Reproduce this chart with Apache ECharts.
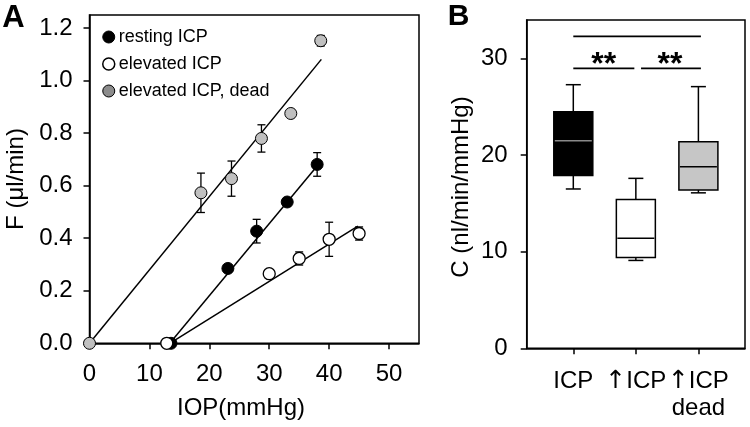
<!DOCTYPE html>
<html>
<head>
<meta charset="utf-8">
<script src="https://cdn.jsdelivr.net/npm/echarts@6/dist/echarts.min.js"></script>
<style>
html,body{margin:0;padding:0;background:#fff;}
#c{width:750px;height:427px;}
</style>
</head>
<body>
<div id="c"></div>
<script>
// ---------- Panel A data ----------
const restingPts = [[13.6, 0], [23.1, 0.285], [27.9, 0.427], [33.0, 0.538], [38.0, 0.681]];
const restingErr = [0, 0, 0.045, 0, 0.045];
const elevatedPts = [[12.9, 0], [30.0, 0.265], [35.0, 0.323], [40.0, 0.396], [45.0, 0.418]];
const elevatedErr = [0, 0, 0.025, 0.065, 0.025];
const deadPts = [[0, 0], [18.6, 0.573], [23.7, 0.627], [28.7, 0.78], [33.6, 0.875], [38.6, 1.152]];
const deadErr = [0, 0.075, 0.067, 0.052, 0, 0.02];
const restingFit = [[13.4, 0], [38.0, 0.675]];
const elevatedFit = [[13.4, 0], [44.8, 0.446]];
const deadFit = [[0, 0], [38.7, 1.081]];
const aXTicks = [0, 10, 20, 30, 40, 50];
const aYTicks = [0, 0.2, 0.4, 0.6, 0.8, 1.0, 1.2];
const seriesNames = ['resting ICP', 'elevated ICP', 'elevated ICP, dead'];

// ---------- Panel B data ----------
const boxCategories = ['ICP', '↑ICP', '↑ICP\ndead'];
const boxMin = [16.5, 9.1, 16.1];
const boxQ1 = [17.9, 9.4, 16.4];
const boxMedian = [21.5, 11.4, 18.8];
const boxQ3 = [24.5, 15.4, 21.4];
const boxMax = [27.3, 17.6, 27.1];
const bYTicks = [0, 10, 20, 30];
const sigLines = [[0, 2.04, 32.3], [0, 0.976, 29.0], [1.083, 2.04, 29.0]];
const sigStars = [[0.486, 29.0, '**'], [1.547, 29.0, '**']];

// ---------- styles ----------
const FONT = '"Liberation Sans", Arial, Helvetica, sans-serif';
const boxFill = ['#000000', '#ffffff', '#c6c6c6'];
const boxMedianColor = ['#8a8a8a', '#000000', '#000000'];

function withErr(pts, err) { return pts.map((p, i) => [p[0], p[1], err[i]]); }

const errRender = function (params, api) {
  const x = api.value(0), y = api.value(1), e = api.value(2);
  if (!e) return null;
  const t = api.coord([x, y + e]), b = api.coord([x, y - e]);
  const cw = 4;
  const st = { stroke: '#000', lineWidth: 1.3 };
  return { type: 'group', children: [
    { type: 'line', shape: { x1: t[0], y1: t[1], x2: b[0], y2: b[1] }, style: st },
    { type: 'line', shape: { x1: t[0] - cw, y1: t[1], x2: t[0] + cw, y2: t[1] }, style: st },
    { type: 'line', shape: { x1: b[0] - cw, y1: b[1], x2: b[0] + cw, y2: b[1] }, style: st }
  ]};
};

const boxData = boxCategories.map((c, i) => [i, boxMin[i], boxQ1[i], boxMedian[i], boxQ3[i], boxMax[i]]);

function catLabel(v) {
  const s = boxCategories[Math.round(v)];
  return s.replace('↑', '{arr|↑}');
}

const chart = echarts.init(document.getElementById('c'), null, { renderer: 'canvas' });

const axisCommon = {
  axisLine: { show: true, onZero: false, lineStyle: { color: '#000', width: 1.5 } },
  axisTick: { show: true, inside: false, length: 6, lineStyle: { color: '#000', width: 1.5 } },
  splitLine: { show: false },
  axisLabel: { color: '#000', fontSize: 24, fontFamily: FONT, hideOverlap: false }
};

const option = {
  animation: false,
  backgroundColor: '#fff',
  textStyle: { fontFamily: FONT },
  grid: [
    { left: 89.5, right: 331, top: 15, bottom: 83.7, show: true, borderColor: '#000', borderWidth: 1.5, backgroundColor: 'transparent', containLabel: false, outerBoundsMode: 'none' },
    { left: 526.7, right: 5, top: 20, bottom: 78.7, show: true, borderColor: '#000', borderWidth: 1.5, backgroundColor: 'transparent', containLabel: false, outerBoundsMode: 'none' }
  ],
  xAxis: [
    Object.assign({}, axisCommon, {
      type: 'value', gridIndex: 0, min: 0, max: 55,
      axisTick: Object.assign({}, axisCommon.axisTick, { customValues: aXTicks }),
      axisLabel: Object.assign({}, axisCommon.axisLabel, { customValues: aXTicks, margin: 19, formatter: v => String(v) })
    }),
    Object.assign({}, axisCommon, {
      type: 'value', gridIndex: 1, min: -0.745, max: 2.745,
      axisTick: Object.assign({}, axisCommon.axisTick, { customValues: [0, 1, 2] }),
      axisLabel: Object.assign({}, axisCommon.axisLabel, {
        customValues: [0, 1, 2], margin: 20, lineHeight: 27,
        showMinLabel: true, showMaxLabel: true,
        formatter: catLabel,
        rich: { arr: { fontFamily: '"DejaVu Sans", sans-serif', fontSize: 25, lineHeight: 27, color: '#000' } }
      })
    })
  ],
  yAxis: [
    Object.assign({}, axisCommon, {
      type: 'value', gridIndex: 0, min: 0, max: 1.25,
      axisTick: Object.assign({}, axisCommon.axisTick, { customValues: aYTicks }),
      axisLabel: Object.assign({}, axisCommon.axisLabel, { customValues: aYTicks, margin: 17, formatter: v => v.toFixed(1) })
    }),
    Object.assign({}, axisCommon, {
      type: 'value', gridIndex: 1, min: 0, max: 34,
      axisTick: Object.assign({}, axisCommon.axisTick, { customValues: bYTicks }),
      axisLabel: Object.assign({}, axisCommon.axisLabel, { customValues: bYTicks, margin: 19, formatter: v => String(v) })
    })
  ],
  legend: {
    orient: 'vertical', left: 102, top: 28, padding: 0, itemGap: 9,
    itemWidth: 12, itemHeight: 12, icon: 'circle',
    textStyle: { color: '#000', fontSize: 18, fontFamily: FONT, padding: [0, 0, 0, -1] },
    selectedMode: false,
    data: [
      { name: seriesNames[0], itemStyle: { color: '#000', borderColor: '#000', borderWidth: 1, opacity: 1 } },
      { name: seriesNames[1], itemStyle: { color: '#fff', borderColor: '#000', borderWidth: 1.5, opacity: 1 } },
      { name: seriesNames[2], itemStyle: { color: '#8c8c8c', borderColor: '#000', borderWidth: 1, opacity: 1 } }
    ]
  },
  series: [
    // fit lines
    { type: 'line', xAxisIndex: 0, yAxisIndex: 0, data: deadFit, symbol: 'none', lineStyle: { color: '#000', width: 1.5 }, z: 2, silent: true },
    { type: 'line', xAxisIndex: 0, yAxisIndex: 0, data: restingFit, symbol: 'none', lineStyle: { color: '#000', width: 1.5 }, z: 2, silent: true },
    { type: 'line', xAxisIndex: 0, yAxisIndex: 0, data: elevatedFit, symbol: 'none', lineStyle: { color: '#000', width: 1.5 }, z: 2, silent: true },
    // error bars
    { type: 'custom', xAxisIndex: 0, yAxisIndex: 0, data: withErr(deadPts, deadErr), encode: { x: 0, y: 1 }, renderItem: errRender, z: 3, silent: true },
    { type: 'custom', xAxisIndex: 0, yAxisIndex: 0, data: withErr(restingPts, restingErr), encode: { x: 0, y: 1 }, renderItem: errRender, z: 3, silent: true },
    { type: 'custom', xAxisIndex: 0, yAxisIndex: 0, data: withErr(elevatedPts, elevatedErr), encode: { x: 0, y: 1 }, renderItem: errRender, z: 3, silent: true },
    // points
    { name: seriesNames[2], type: 'scatter', xAxisIndex: 0, yAxisIndex: 0, data: deadPts, symbol: 'circle', symbolSize: 12,
      itemStyle: { color: '#c0c0c0', borderColor: '#000', borderWidth: 1, opacity: 1 }, z: 4, clip: false },
    { name: seriesNames[0], type: 'scatter', xAxisIndex: 0, yAxisIndex: 0, data: restingPts, symbol: 'circle', symbolSize: 12,
      itemStyle: { color: '#000', borderColor: '#000', borderWidth: 1, opacity: 1 }, z: 4, clip: false },
    { name: seriesNames[1], type: 'scatter', xAxisIndex: 0, yAxisIndex: 0, data: elevatedPts, symbol: 'circle', symbolSize: 12,
      itemStyle: { color: '#fff', borderColor: '#000', borderWidth: 1.3, opacity: 1 }, z: 5, clip: false },
    // box plots
    { type: 'custom', xAxisIndex: 1, yAxisIndex: 1, data: boxData, encode: { x: 0, y: [1, 2, 3, 4, 5] }, z: 3, silent: true,
      renderItem: function (params, api) {
        const i = params.dataIndex;
        const x = api.value(0);
        const pMin = api.coord([x, api.value(1)]), pQ1 = api.coord([x, api.value(2)]), pMd = api.coord([x, api.value(3)]);
        const pQ3 = api.coord([x, api.value(4)]), pMax = api.coord([x, api.value(5)]);
        const cx = pMd[0], hw = 19.5, cw = 7.5;
        const st = { stroke: '#000', lineWidth: 1.5 };
        return { type: 'group', children: [
          { type: 'line', shape: { x1: cx, y1: pQ3[1], x2: cx, y2: pMax[1] }, style: st },
          { type: 'line', shape: { x1: cx - cw, y1: pMax[1], x2: cx + cw, y2: pMax[1] }, style: st },
          { type: 'line', shape: { x1: cx, y1: pQ1[1], x2: cx, y2: pMin[1] }, style: st },
          { type: 'line', shape: { x1: cx - cw, y1: pMin[1], x2: cx + cw, y2: pMin[1] }, style: st },
          { type: 'rect', shape: { x: cx - hw, y: pQ3[1], width: 2 * hw, height: pQ1[1] - pQ3[1] }, style: { fill: boxFill[i], stroke: '#000', lineWidth: 1.5 } },
          { type: 'line', shape: { x1: cx - hw + 1, y1: pMd[1], x2: cx + hw - 1, y2: pMd[1] }, style: { stroke: boxMedianColor[i], lineWidth: 1.5 } }
        ]};
      }
    },
    // significance lines
    { type: 'custom', xAxisIndex: 1, yAxisIndex: 1, data: sigLines, encode: { x: [0, 1], y: 2 }, z: 3, silent: true, clip: false,
      renderItem: function (params, api) {
        const a = api.coord([api.value(0), api.value(2)]), b = api.coord([api.value(1), api.value(2)]);
        return { type: 'line', shape: { x1: a[0], y1: a[1], x2: b[0], y2: b[1] }, style: { stroke: '#000', lineWidth: 1.8 } };
      }
    },
    // significance stars
    { type: 'custom', xAxisIndex: 1, yAxisIndex: 1, data: sigStars, encode: { x: 0, y: 1 }, z: 3, silent: true, clip: false,
      renderItem: function (params, api) {
        const p = api.coord([api.value(0), api.value(1)]);
        return { type: 'text', x: p[0], y: p[1] - 3, style: { text: sigStars[params.dataIndex][2], font: 'bold 32px ' + FONT, fill: '#000', align: 'center', verticalAlign: 'middle' } };
      }
    }
  ],
  graphic: [
    { type: 'text', x: 13.5, y: 18, style: { text: 'A', font: 'bold 31px ' + FONT, fill: '#000', align: 'center', verticalAlign: 'middle' } },
    { type: 'text', x: 458.5, y: 17, style: { text: 'B', font: 'bold 30px ' + FONT, fill: '#000', align: 'center', verticalAlign: 'middle' } },
    { type: 'text', x: 241, y: 408, style: { text: 'IOP(mmHg)', font: '24px ' + FONT, fill: '#000', align: 'center', verticalAlign: 'middle' } },
    { type: 'text', x: 16, y: 179, rotation: Math.PI / 2, style: { text: 'F (μl/min)', font: '24px ' + FONT, fill: '#000', align: 'center', verticalAlign: 'middle' } },
    { type: 'text', x: 461, y: 187, rotation: Math.PI / 2, style: { text: 'C (nl/min/mmHg)', font: '24px ' + FONT, fill: '#000', align: 'center', verticalAlign: 'middle' } }
  ]
};
chart.setOption(option);
</script>
</body>
</html>
